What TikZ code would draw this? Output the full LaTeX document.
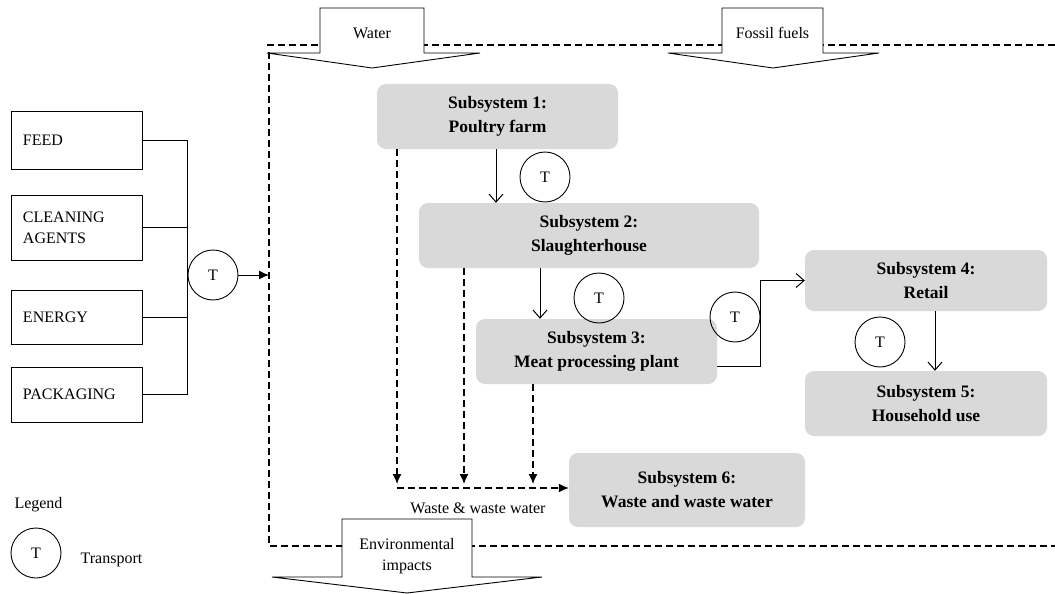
\documentclass[tikz,border=0pt]{standalone}
\usepackage{fontspec}
\setmainfont{Liberation Serif}
\usepackage{tikz}
\usetikzlibrary{arrows.meta}

\tikzset{
  subsys/.style={fill=gray!30, rounded corners=9pt, inner sep=0pt, align=center,
    font=\bfseries\fontsize{17.5}{24}\selectfont},
  input/.style={draw, line width=0.9pt, inner xsep=12pt, inner ysep=0pt, text width=107pt,
    align=left, font=\fontsize{16}{21}\selectfont},
  transp/.style={draw, circle, line width=0.9pt, minimum size=50pt, inner sep=0pt,
    font=\fontsize{16}{19}\selectfont},
  lbl/.style={font=\fontsize{16}{21}\selectfont, align=center},
  flow/.style={line width=1pt, -{Straight Barb[length=8pt,width=14pt]}},
  wasteline/.style={line width=1.3pt, dash pattern=on 7pt off 4pt, -{Latex[length=10pt,width=9pt]}},
  boundary/.style={line width=1.3pt, dash pattern=on 7pt off 4pt},
  bigarrow/.style={draw, fill=white, line width=0.9pt}
}

\begin{document}
\begin{tikzpicture}[x=1pt, y=-1pt]
    \useasboundingbox (0,0) rectangle (1055,594);
    % system boundary
    \coordinate (bTL) at (269,52);
    \coordinate (bBL) at (269,546);
    \draw[boundary] (267,45) -- (1055,45);
    \draw[boundary] (bTL) -- (bBL) -- (1055,546);
    % block arrows
    \draw[bigarrow] (320,8) -- (424,8) -- (424,53) -- (480,53) -- (372,68)
      -- (267,53) -- (320,53) -- cycle;
    \node[lbl] (water) at (372,33) {Water};
    \draw[bigarrow] (722,8) -- (823,8) -- (823,53) -- (879,53) -- (773,68)
      -- (668,53) -- (722,53) -- cycle;
    \node[lbl] (fossil) at (772.5,33) {Fossil fuels};
    \draw[bigarrow] (342,519) -- (472,519) -- (472,577) -- (542,577) -- (407,593)
      -- (272,577) -- (342,577) -- cycle;
    \node[lbl] (envimp) at (407,556) {Environmental\\impacts};
    % inputs
    \node[input, minimum height=58pt] (feed) at (76.5,140) {FEED};
    \node[input, minimum height=65pt] (clean) at (76.5,227.5) {CLEANING\\AGENTS};
    \node[input, minimum height=54pt] (energy) at (76.5,317) {ENERGY};
    \node[input, minimum height=55pt] (pack) at (76.5,394.5) {PACKAGING};
    \node[transp] (tin) at (213,275) {T};
    \draw[line width=0.9pt] (feed.east) -- (feed.east -| tin.west) -- (pack.east -| tin.west) -- (pack.east);
    \draw[line width=0.9pt] (clean.east) -- (clean.east -| tin.west);
    \draw[line width=0.9pt] (energy.east) -- (energy.east -| tin.west);
    \draw[line width=1pt, -{Latex[length=10pt,width=9pt]}] (tin.east) -- (tin -| bTL);
    % subsystems
    \node[subsys, minimum width=241pt, minimum height=65pt] (s1) at (497.5,116.5) {Subsystem 1:\\Poultry farm};
    \node[subsys, minimum width=340pt, minimum height=65pt] (s2) at (589,235.5) {Subsystem 2:\\Slaughterhouse};
    \node[subsys, minimum width=241pt, minimum height=65pt] (s3) at (596.5,351.5) {Subsystem 3:\\Meat processing plant};
    \node[subsys, minimum width=242pt, minimum height=61pt] (s4) at (926,280.5) {Subsystem 4:\\Retail};
    \node[subsys, minimum width=242pt, minimum height=65pt] (s5) at (926,403.5) {Subsystem 5:\\Household use};
    \node[subsys, minimum width=236pt, minimum height=74pt] (s6) at (687,490) {Subsystem 6:\\Waste and waste water};
    % transport steps
    \node[transp] (t12) at (545,177) {T};
    \node[transp] (t23) at (599,298) {T};
    \node[transp] (t34) at (735,317) {T};
    \node[transp] (t45) at (880,342) {T};
    \draw[flow] ([xshift=-1.5pt]s1.south) -- ([xshift=-1.5pt]s1.south |- s2.north);
    \draw[flow] ([xshift=-49pt]s2.south) -- ([xshift=-49pt]s2.south |- s3.north);
    \draw[flow] ([yshift=-14.5pt]s3.east) -- ++(43,0) |- (s4.west);
    \draw[flow] ([xshift=9pt]s4.south) -- ([xshift=9pt]s4.south |- s5.north);
    % waste
    \coordinate (w1) at (397,484);
    \coordinate (w2) at (464,484);
    \coordinate (w3) at (533,484);
    \coordinate (wh) at (397,488);
    \draw[wasteline] (s1.south -| w1) -- (w1);
    \draw[wasteline] (s2.south -| w2) -- (w2);
    \draw[wasteline] (s3.south -| w3) -- (w3);
    \draw[wasteline] (wh) -- (wh -| s6.west);
    \node[lbl] (wlabel) at (478,508) {Waste \& waste water};
    % legend
    \node[lbl] (legend) at (38.5,505) {Legend};
    \node[transp] (tleg) at (36,553) {T};
    \node[lbl] (transport) at (111.5,560) {Transport};
\end{tikzpicture}
\end{document}
